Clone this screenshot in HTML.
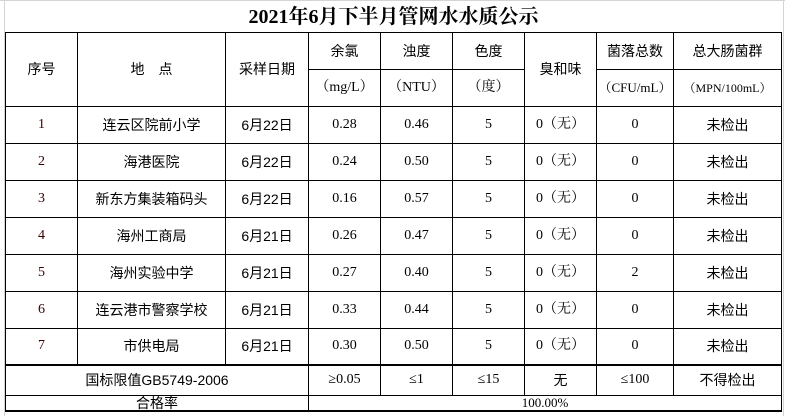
<!DOCTYPE html>
<html><head><meta charset="utf-8"><style>
body{margin:0;width:785px;height:416px;background:#fff;overflow:hidden;position:relative;font-family:"Liberation Sans","Noto Sans CJK SC",sans-serif;}
.g{position:absolute;background:#d4d4d4}
table{position:absolute;left:5px;top:3px;border-collapse:collapse;table-layout:fixed;}
td{border:1px solid #000;text-align:center;vertical-align:middle;padding:0;font-size:14px;color:#000;overflow:hidden;white-space:nowrap;line-height:14px}
.n{font-family:"Liberation Serif","Noto Serif CJK SC",serif;font-size:14px}
.s{font-size:12px;font-family:"Liberation Serif","Noto Serif CJK SC",serif}
.t{border:none;border-bottom:1px solid #000;font-family:"Liberation Serif","Noto Serif CJK SC",serif;font-weight:bold;font-size:20px}
.r1{color:#3a0000}
tr.b td{border-top:2px solid #000}
tr.z td{border-bottom:2px solid #000}
</style></head><body>
<div class="g" style="left:0;top:0;width:785px;height:1px"></div>
<div class="g" style="left:4px;top:0;width:1px;height:416px"></div>
<div class="g" style="left:783px;top:0;width:1px;height:416px"></div>
<table>
<colgroup><col style="width:72px"><col style="width:148px"><col style="width:83px"><col style="width:72px"><col style="width:72px"><col style="width:72px"><col style="width:72px"><col style="width:77px"><col style="width:108px"></colgroup>
<tr style="height:29px"><td colspan="9" class="t">2021年6月下半月管网水水质公示</td></tr>
<tr style="height:37px"><td rowspan="2">序号</td><td rowspan="2">地　点</td><td rowspan="2">采样日期</td><td>余氯</td><td>浊度</td><td>色度</td><td rowspan="2">臭和味</td><td>菌落总数</td><td>总大肠菌群</td></tr>
<tr style="height:37px"><td class="n">（mg/L）</td><td class="n">（NTU）</td><td class="n">（度）</td><td class="n" style="font-size:13px">（CFU/mL）</td><td class="s">（MPN/100mL）</td></tr>
<tr style="height:37px"><td class="n r1">1</td><td>连云区院前小学</td><td>6月22日</td><td class="n">0.28</td><td class="n">0.46</td><td class="n">5</td><td class="n">0（无）</td><td class="n">0</td><td>未检出</td></tr>
<tr style="height:37px"><td class="n r1">2</td><td>海港医院</td><td>6月22日</td><td class="n">0.24</td><td class="n">0.50</td><td class="n">5</td><td class="n">0（无）</td><td class="n">0</td><td>未检出</td></tr>
<tr style="height:37px"><td class="n r1">3</td><td>新东方集装箱码头</td><td>6月22日</td><td class="n">0.16</td><td class="n">0.57</td><td class="n">5</td><td class="n">0（无）</td><td class="n">0</td><td>未检出</td></tr>
<tr style="height:37px"><td class="n r1">4</td><td>海州工商局</td><td>6月21日</td><td class="n">0.26</td><td class="n">0.47</td><td class="n">5</td><td class="n">0（无）</td><td class="n">0</td><td>未检出</td></tr>
<tr style="height:37px"><td class="n r1">5</td><td>海州实验中学</td><td>6月21日</td><td class="n">0.27</td><td class="n">0.40</td><td class="n">5</td><td class="n">0（无）</td><td class="n">2</td><td>未检出</td></tr>
<tr style="height:37px"><td class="n r1">6</td><td>连云港市警察学校</td><td>6月21日</td><td class="n">0.33</td><td class="n">0.44</td><td class="n">5</td><td class="n">0（无）</td><td class="n">0</td><td>未检出</td></tr>
<tr style="height:37px"><td class="n r1">7</td><td>市供电局</td><td>6月21日</td><td class="n">0.30</td><td class="n">0.50</td><td class="n">5</td><td class="n">0（无）</td><td class="n">0</td><td>未检出</td></tr>
<tr class="b" style="height:30px"><td colspan="3">国标限值GB5749-2006</td><td class="n">≥0.05</td><td class="n">≤1</td><td class="n">≤15</td><td>无</td><td class="n">≤100</td><td>不得检出</td></tr>
<tr class="z" style="height:15px"><td colspan="3">合格率</td><td colspan="6" class="n" style="font-size:13px">100.00%</td></tr>
</table>
</body></html>
